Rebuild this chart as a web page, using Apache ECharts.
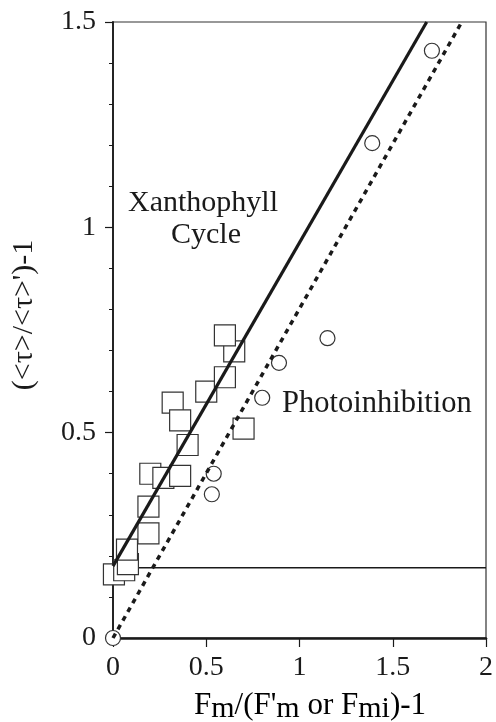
<!DOCTYPE html>
<html>
<head>
<meta charset="utf-8">
<script src="https://cdn.jsdelivr.net/npm/echarts@6/dist/echarts.min.js"></script>
<style>html,body{margin:0;padding:0;background:#fff;}#c{width:496px;height:722px;}</style>
</head>
<body>
<div id="c"></div>
<script>
// Photoinhibition (circles)
var circleX = [0.00, 0.53, 0.54, 0.80, 0.89, 1.15, 1.39, 1.71];
var circleY = [0.00, 0.35, 0.40, 0.585, 0.67, 0.73, 1.205, 1.43];
// Xanthophyll cycle (squares)
var squareX = [0.005, 0.06, 0.08, 0.075, 0.19, 0.19, 0.20, 0.27, 0.36, 0.40, 0.32, 0.36, 0.50, 0.60, 0.65, 0.60, 0.70];
var squareY = [0.155, 0.165, 0.18, 0.215, 0.255, 0.32, 0.40, 0.39, 0.395, 0.47, 0.573, 0.53, 0.60, 0.635, 0.698, 0.737, 0.51];
// fitted lines (end points)
var xanthLine = [[0, 0.175], [1.682, 1.5]];
var photoLine = [[0, 0], [1.87, 1.5]];
// horizontal reference line
var refLine = [[0, 0.171], [2, 0.171]];
var xTicks = [0, 0.5, 1, 1.5, 2];
var yTicks = [0, 0.5, 1, 1.5];

var chart = echarts.init(document.getElementById('c'), null, {renderer: 'canvas'});
var serif = '"Liberation Serif", "DejaVu Serif", serif';
var ink = '#1a1a1a';

function zip(xs, ys) { return xs.map(function (x, i) { return [x, ys[i]]; }); }

chart.setOption({
  animation: false,
  backgroundColor: '#fff',
  grid: {left: 113, right: 8, top: 22, bottom: 84, show: true, borderColor: '#333', borderWidth: 1.2, backgroundColor: 'transparent'},
  xAxis: {
    type: 'value', min: xTicks[0], max: xTicks[xTicks.length - 1], interval: 0.5,
    axisLine: {show: true, onZero: false, lineStyle: {color: ink, width: 2.5}},
    axisTick: {show: true, length: 9, lineStyle: {color: ink, width: 1.2}},
    splitLine: {show: false},
    axisLabel: {fontFamily: serif, fontSize: 28, color: ink, margin: 16, showMinLabel: true, showMaxLabel: true}
  },
  yAxis: {
    type: 'value', min: yTicks[0], max: yTicks[yTicks.length - 1], interval: 0.5,
    axisLine: {show: true, onZero: false, lineStyle: {color: ink, width: 1.8}},
    axisTick: {show: true, length: 8, lineStyle: {color: ink, width: 1.2}},
    minorTick: {show: true, splitNumber: 5, length: 4, lineStyle: {color: ink, width: 1}},
    splitLine: {show: false},
    axisLabel: {fontFamily: serif, fontSize: 28, color: ink, margin: 17}
  },
  series: [
    {type: 'line', data: refLine, symbol: 'none', z: 1, lineStyle: {color: ink, width: 1.5}},
    {type: 'scatter', data: zip(squareX, squareY), symbol: 'rect', symbolSize: 21, z: 2,
     itemStyle: {color: '#fff', borderColor: '#333', borderWidth: 1.2, opacity: 1}},
    {type: 'scatter', data: zip(circleX, circleY), symbol: 'circle', symbolSize: 15, z: 3,
     itemStyle: {color: '#fff', borderColor: '#333', borderWidth: 1.2, opacity: 1}},
    {type: 'line', data: xanthLine, symbol: 'none', z: 4, lineStyle: {color: ink, width: 3.2}},
    {type: 'line', data: photoLine, symbol: 'none', z: 4, lineStyle: {color: ink, width: 3.5, type: [5, 5]}}
  ],
  graphic: [
    {type: 'text', left: 128, top: 188, z: 10, style: {text: 'Xanthophyll', font: '30px ' + serif, fill: ink}},
    {type: 'text', left: 171, top: 220, z: 10, style: {text: 'Cycle', font: '30px ' + serif, fill: ink}},
    {type: 'text', left: 282, top: 388, z: 10, style: {text: 'Photoinhibition', font: '30.5px ' + serif, fill: ink}},
    {type: 'text', x: 24, y: 315, rotation: Math.PI / 2, z: 10,
     style: {text: "(<\u03c4>/<\u03c4>')-1", font: '30px ' + serif, fill: ink, align: 'center', verticalAlign: 'middle'}},
    {type: 'text', x: 310, y: 706, z: 10,
     style: {
       text: "{a|F}{s|m}{a|/(F'}{s|m}{a| or F}{s|mi}{a|)-1}",
       align: 'center', verticalAlign: 'middle',
       rich: {
         a: {fontFamily: serif, fontSize: 31, color: ink, lineHeight: 36, verticalAlign: 'middle'},
         s: {fontFamily: serif, fontSize: 30, color: ink, lineHeight: 32, verticalAlign: 'bottom'}
       }
     }}
  ]
});
</script>
</body>
</html>
